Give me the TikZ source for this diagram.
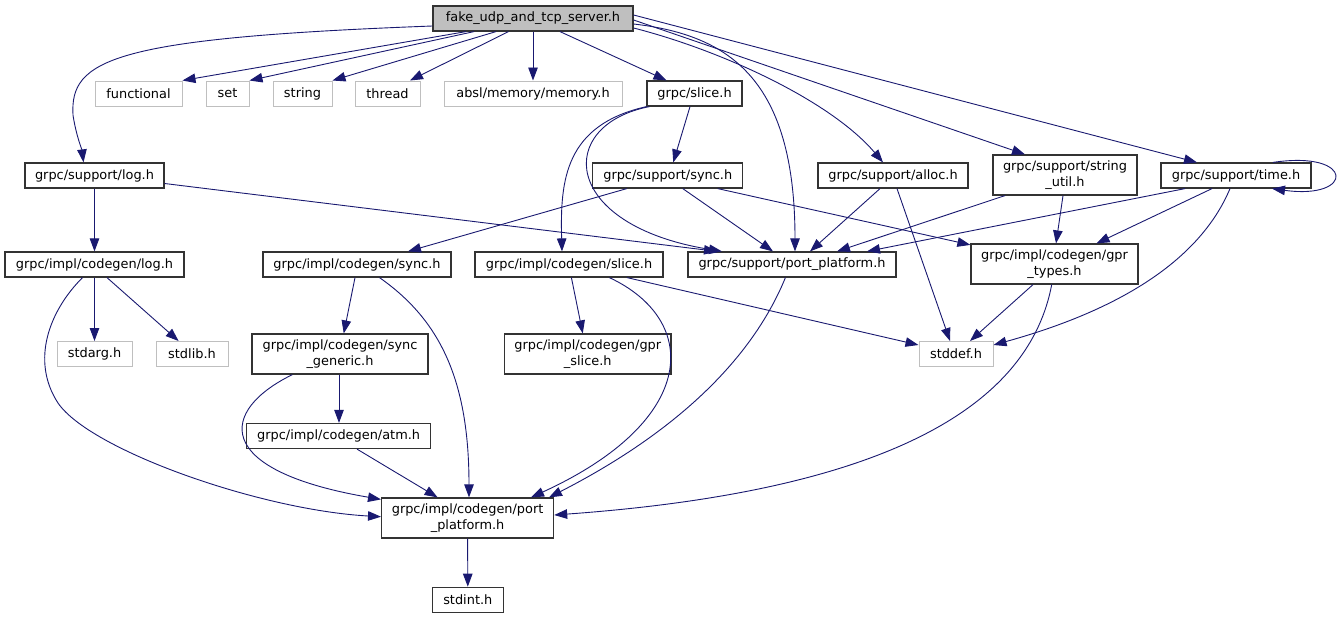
\documentclass[tikz,border=0pt]{standalone}
\usepackage{fontspec}
\setmainfont{DejaVu Sans}
\usetikzlibrary{arrows.meta}
\definecolor{edgec}{HTML}{191970}
\definecolor{boxc}{HTML}{333333}
\definecolor{extc}{HTML}{BFBFBF}
\definecolor{rootfill}{HTML}{BFBFBF}
\begin{document}
\begin{tikzpicture}[x=1pt,y=-1pt,
  base/.style={rectangle, inner sep=0pt, align=center, font=\fontsize{12.9}{15.5}\selectfont, line width=1.2pt},
  box/.style={base, draw=boxc, fill=white},
  ext/.style={base, draw=extc, fill=white, line width=1pt},
  rootbox/.style={base, draw=boxc, fill=rootfill},
  edge/.style={draw=edgec, line width=0.9pt, -{Triangle[length=13pt,width=9.5pt]}}
]
\useasboundingbox (0,0) rectangle (1340,619);

% nodes
\node[rootbox, minimum width=200pt, minimum height=25pt] (root) at (533,18.5) {fake\_udp\_and\_tcp\_server.h};

\node[ext, minimum width=87pt, minimum height=25pt] (functional) at (138.5,93.5) {functional};
\node[ext, minimum width=43pt, minimum height=25pt] (set) at (227.5,93.5) {set};
\node[ext, minimum width=59pt, minimum height=25pt] (string) at (302.5,93.5) {string};
\node[ext, minimum width=65pt, minimum height=25pt] (thread) at (387.5,93.5) {thread};
\node[ext, minimum width=178pt, minimum height=25pt] (absl) at (533,93.5) {absl/memory/memory.h};
\node[box, minimum width=95pt, minimum height=25pt] (slice) at (694.5,93.5) {grpc/slice.h};

\node[box, minimum width=139pt, minimum height=25pt] (slog) at (94.5,175.5) {grpc/support/log.h};
\node[box, minimum width=150pt, minimum height=25pt] (ssync) at (667.75,175.5) {grpc/support/sync.h};
\node[box, minimum width=150pt, minimum height=25pt] (alloc) at (893,175.5) {grpc/support/alloc.h};
\node[box, minimum width=144pt, minimum height=40pt] (sutil) at (1065,175) {grpc/support/string\\\_util.h};
\node[box, minimum width=150pt, minimum height=25pt] (time) at (1236,175.5) {grpc/support/time.h};

\node[box, minimum width=179pt, minimum height=25pt] (ilog) at (94.5,264.5) {grpc/impl/codegen/log.h};
\node[box, minimum width=188pt, minimum height=25pt] (isync) at (357,264.5) {grpc/impl/codegen/sync.h};
\node[box, minimum width=188pt, minimum height=25pt] (islice) at (569,264.5) {grpc/impl/codegen/slice.h};
\node[box, minimum width=208pt, minimum height=25pt] (sport) at (792,264.5) {grpc/support/port\_platform.h};
\node[box, minimum width=167pt, minimum height=40pt] (gtypes) at (1054.5,264) {grpc/impl/codegen/gpr\\\_types.h};

\node[ext, minimum width=75pt, minimum height=25pt] (stdarg) at (94.5,354) {stdarg.h};
\node[ext, minimum width=72pt, minimum height=25pt] (stdlib) at (192,354) {stdlib.h};
\node[box, minimum width=176pt, minimum height=40pt] (sgen) at (340,354) {grpc/impl/codegen/sync\\\_generic.h};
\node[box, minimum width=166.5pt, minimum height=40pt] (gslice) at (587.75,354) {grpc/impl/codegen/gpr\\\_slice.h};
\node[ext, minimum width=74pt, minimum height=25pt] (stddef) at (956,354) {stddef.h};

\node[box, minimum width=184.4pt, minimum height=25pt] (atm) at (338.6,436) {grpc/impl/codegen/atm.h};
\node[box, minimum width=172pt, minimum height=40pt] (iport) at (467.6,518) {grpc/impl/codegen/port\\\_platform.h};
\node[box, minimum width=71pt, minimum height=25pt] (stdint) at (467.8,599.8) {stdint.h};

% edges from root
\draw[edge] ([xshift=-67pt]root.south) -- (functional.north east);
\draw[edge] ([xshift=-59pt]root.south) -- (set.north east);
\draw[edge] ([xshift=-37pt]root.south) -- (string.north east);
\draw[edge] ([xshift=-24.5pt]root.south) -- ([xshift=22.5pt]thread.north);
\draw[edge] (root.south) -- (absl.north);
\draw[edge] ([xshift=27pt]root.south) -- ([xshift=-28pt]slice.north);
\draw[edge] ([yshift=-7.5pt]root.west) .. controls (110,38) and (70,60) .. (73,115) .. controls (76,135) and (82,150) .. ([xshift=-11pt]slog.north);
\draw[edge] ([yshift=-5.5pt]root.east) .. controls (730,35) and (795,80) .. ([xshift=3pt]sport.north);
\draw[edge] ([yshift=-9.5pt]root.east) .. controls (720,50) and (830,100) .. ([xshift=-10pt]alloc.north);
\draw[edge] ([yshift=-1.5pt]root.east) -- ([xshift=-40pt]sutil.north);
\draw[edge] ([yshift=3.5pt]root.east) -- ([xshift=-39pt]time.north);

% slice.h
\draw[edge] ([xshift=-4.5pt]slice.south) -- ([xshift=5.5pt]ssync.north);
\draw[edge] (slice.south west) .. controls (565,125) and (560,180) .. ([xshift=-7pt]islice.north);
\draw[edge] ([xshift=3pt]slice.south west) .. controls (555,125) and (560,225) .. ([xshift=-70pt]sport.north);

% support/log.h
\draw[edge] (slog.south) -- (ilog.north);
\draw[edge] ([yshift=-8pt]slog.east) -- ([xshift=-75pt]sport.north);

% support/sync.h
\draw[edge] ([xshift=15pt]ssync.south) -- ([xshift=-19pt]sport.north);
\draw[edge] ([xshift=-41pt]ssync.south) -- ([xshift=51pt]isync.north);
\draw[edge] ([xshift=50pt]ssync.south) -- ([yshift=-1.5pt]gtypes.north west);

% alloc
\draw[edge] ([xshift=-13pt]alloc.south) -- ([xshift=18pt]sport.north);
\draw[edge] ([xshift=4pt]alloc.south) -- ([xshift=-6pt]stddef.north);

% string_util
\draw[edge] ([xshift=-60pt]sutil.south) -- ([xshift=45pt]sport.north);
\draw[edge] ([xshift=-2pt]sutil.south) -- ([xshift=1.5pt]gtypes.north);

% time
\draw[edge] ([xshift=-51pt]time.south) -- ([xshift=75pt]sport.north);
\draw[edge] ([xshift=-24pt]time.south) -- ([xshift=42pt]gtypes.north);
\draw[edge] ([xshift=-6pt]time.south) .. controls (1200,260) and (1120,310) .. ([yshift=9pt]stddef.east);
\draw[edge] ([xshift=37pt]time.north) .. controls (1355,150) and (1355,200) .. ([xshift=36pt]time.south);

% impl log
\draw[edge] (ilog.south) -- (stdarg.north);
\draw[edge] ([xshift=12.5pt]ilog.south) -- ([xshift=-13.4pt]stdlib.north);
\draw[edge] ([xshift=-12pt]ilog.south) .. controls (50,310) and (30,360) .. (58,403) .. controls (90,450) and (260,510) .. ([yshift=1.3pt]iport.west);

% impl sync
\draw[edge] ([xshift=-2pt]isync.south) -- ([xshift=3.75pt]sgen.north);
\draw[edge] ([xshift=22.5pt]isync.south) .. controls (440,320) and (469,380) .. ([xshift=1.4pt]iport.north);

% sync_generic
\draw[edge] ([xshift=-1pt]sgen.south) -- ([xshift=0.4pt]atm.north);
\draw[edge] ([xshift=-47.6pt]sgen.south) .. controls (220,410) and (210,470) .. ([yshift=-2pt]iport.north west);

% atm
\draw[edge] ([xshift=18.4pt]atm.south) -- ([xshift=-30pt]iport.north);

% impl slice
\draw[edge] ([xshift=2.4pt]islice.south) -- ([xshift=-5pt]gslice.north);
\draw[edge] ([xshift=40.4pt]islice.south) .. controls (700,320) and (700,420) .. ([xshift=63.4pt]iport.north);
\draw[edge] ([xshift=58pt]islice.south) -- ([yshift=9pt]stddef.west);

% support port_platform
\draw[edge] ([xshift=-6.6pt]sport.south) .. controls (760,340) and (700,420) .. ([xshift=81.4pt]iport.north);

% gpr_types
\draw[edge] ([xshift=-21.5pt]gtypes.south) -- ([xshift=14pt]stddef.north);
\draw[edge] ([xshift=-2.8pt]gtypes.south) .. controls (1030,400) and (900,490) .. ([yshift=3pt]iport.east);

% impl port
\draw[edge] (iport.south) -- (stdint.north);
\end{tikzpicture}
\end{document}
